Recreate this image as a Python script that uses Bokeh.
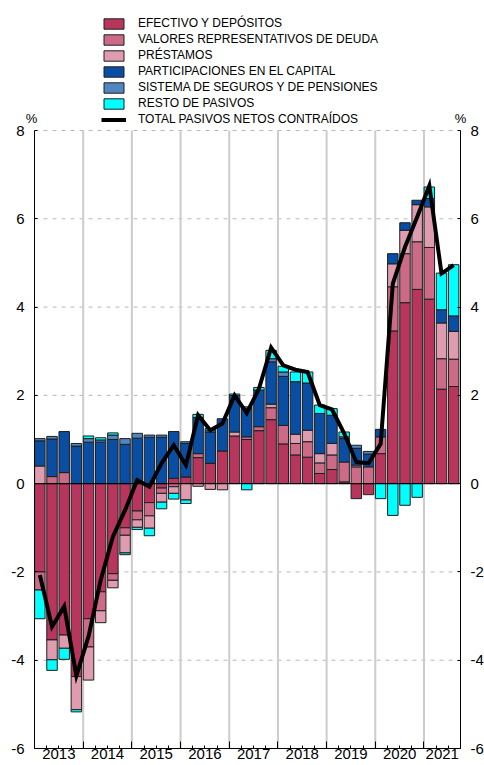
import numpy as np
from bokeh.plotting import figure
from bokeh.models import (Range1d, LinearAxis, FixedTicker, Label,
                          ColumnDataSource, Legend, LegendItem)
from bokeh.embed import file_html
from bokeh.resources import INLINE

# ---------------- data (quarterly, 2013Q1 .. 2021Q3) ----------------
years = ["2013", "2014", "2015", "2016", "2017", "2018", "2019", "2020", "2021"]
quarters_per_year = [4, 4, 4, 4, 4, 4, 4, 4, 3]

efectivo = [-2.00, -3.54, -3.43, -4.37, -3.06, -2.45, -2.04, -1.00, -0.62, -0.43, -0.10, 0.12,
            0.15, 0.59, 0.46, 0.74, 1.08, 1.00, 1.20, 1.45, 0.90, 0.65, 0.60, 0.23,
            0.32, 0.04, -0.34, -0.25, 0.68, 3.46, 4.10, 4.40, 4.18, 2.14, 2.20]
valores = [-0.41, 0.16, 0.25, 0.00, -0.64, -0.43, -0.15, -0.17, -0.20, -0.30, -0.12, -0.07,
           0.00, 0.09, 0.00, 0.00, 0.00, 0.06, 0.09, 0.27, 0.42, 0.26, 0.35, 0.24,
           0.33, 0.45, 0.38, 0.38, 0.38, 1.00, 1.11, 1.08, 1.17, 0.69, 0.62]
prestamos = [0.40, -0.45, -0.30, -0.75, -0.75, -0.27, -0.17, -0.40, -0.17, -0.28, -0.20, -0.15,
             -0.37, -0.06, -0.13, -0.14, 0.09, 0.00, 0.00, 0.08, 0.00, 0.21, 0.26, 0.21,
             0.26, 0.00, 0.04, 0.00, 0.00, 0.52, 0.53, 0.84, 0.92, 0.81, 0.63]
participaciones = [0.57, 0.85, 0.93, 0.85, 0.94, 0.94, 1.00, 0.89, 1.03, 1.05, 1.05, 1.06,
                   0.76, 0.82, 0.71, 0.73, 0.83, 0.64, 0.83, 0.96, 1.11, 1.19, 1.07, 0.91,
                   0.64, 0.53, 0.38, 0.29, 0.17, 0.23, 0.17, 0.10, 0.19, 0.30, 0.35]
seguros = [0.05, 0.06, 0.00, 0.06, 0.08, 0.05, 0.10, 0.13, 0.11, 0.05, 0.05, 0.00,
           0.04, 0.00, 0.04, 0.00, 0.00, 0.04, 0.00, 0.07, 0.10, 0.00, 0.00, 0.00,
           0.00, 0.04, 0.07, 0.06, 0.00, 0.00, 0.00, 0.00, 0.00, 0.00, 0.00]
resto = [-0.65, -0.24, -0.25, -0.05, 0.06, 0.05, 0.05, -0.04, -0.05, -0.17, -0.15, -0.13,
         -0.08, 0.07, 0.04, 0.00, 0.03, -0.14, 0.06, 0.19, 0.13, 0.22, 0.25, 0.19,
         0.15, 0.11, 0.00, 0.00, -0.34, -0.72, -0.49, -0.31, 0.26, 0.83, 1.16]
total = [-2.07, -3.24, -2.78, -4.35, -3.46, -2.18, -1.20, -0.60, 0.08, -0.07, 0.46, 0.87,
         0.42, 1.55, 1.21, 1.36, 2.00, 1.60, 2.15, 3.08, 2.68, 2.58, 2.53, 1.78,
         1.68, 1.14, 0.49, 0.46, 0.90, 4.53, 5.36, 6.04, 6.75, 4.76, 4.95]

series_names = ["EFECTIVO Y DEPÓSITOS", "VALORES REPRESENTATIVOS DE DEUDA", "PRÉSTAMOS",
                "PARTICIPACIONES EN EL CAPITAL", "SISTEMA DE SEGUROS Y DE PENSIONES",
                "RESTO DE PASIVOS"]
total_name = "TOTAL PASIVOS NETOS CONTRAÍDOS"
y_ticks = [-6, -4, -2, 0, 2, 4, 6, 8]
unit_label = "%"

series_values = [efectivo, valores, prestamos, participaciones, seguros, resto]
series_colors = ["#B8365E", "#CC6A88", "#DF9CB0", "#0A4EA3", "#5186BF", "#00FFFF"]
OUTLINE = "#1e1e1e"
FONT = "Liberation Sans"

n = len(total)
y_lo, y_hi = min(y_ticks), max(y_ticks)
bounds = np.concatenate([[0], np.cumsum(quarters_per_year)])
inner_bounds = [float(b) for b in bounds[1:-1]]
year_centers = [float(bounds[i] + bounds[i + 1]) / 2 for i in range(len(years))]

# ---------------- layout (pixels) ----------------
W, H = 484, 765
PLOT_L, PLOT_R, PLOT_T, PLOT_B = 34, 460, 130, 748   # where the value axes sit
ppx = (PLOT_R - PLOT_L) / n
ppy = (PLOT_B - PLOT_T) / (y_hi - y_lo)
x_range = Range1d(-PLOT_L / ppx, n + (W - PLOT_R) / ppx)
y_range = Range1d(y_lo - (H - PLOT_B) / ppy, y_hi + PLOT_T / ppy)

p = figure(width=W, height=H, x_range=x_range, y_range=y_range,
           output_backend="svg", toolbar_location=None,
           x_axis_location=None, y_axis_location=None,
           min_border_left=0, min_border_right=0, min_border_top=0, min_border_bottom=0)
p.outline_line_color = None
p.xgrid.visible = False
p.ygrid.visible = False

# grid lines limited to the axes' extent
p.segment(x0=[0] * len(y_ticks), x1=[n] * len(y_ticks), y0=y_ticks, y1=y_ticks,
          line_color="#b8b8b8", line_width=1, line_dash="4 5")
p.segment(x0=inner_bounds, x1=inner_bounds, y0=[y_lo] * len(inner_bounds),
          y1=[y_hi] * len(inner_bounds), line_color="#cccccc", line_width=2)

# stacked bars (positive and negative stacks separately)
x = np.arange(n) + 0.44
pos_base = np.zeros(n)
neg_base = np.zeros(n)
items = []
for name, vals, color in zip(series_names, series_values, series_colors):
    v = np.array(vals, dtype=float)
    pos = np.where(v > 0, v, 0.0)
    neg = np.where(v < 0, v, 0.0)
    bottom = np.where(v > 0, pos_base, neg_base + neg)
    top = np.where(v > 0, pos_base + pos, neg_base)
    pos_base = pos_base + pos
    neg_base = neg_base + neg
    m = v != 0
    src = ColumnDataSource(dict(x=x[m], bottom=bottom[m], top=top[m]))
    r = p.vbar(x="x", bottom="bottom", top="top", width=0.86, source=src,
               fill_color=color, line_color=OUTLINE, line_width=1)
    items.append(LegendItem(label=name, renderers=[r]))

# zero line
p.segment(x0=[0], x1=[n], y0=[0], y1=[0], line_color="black", line_width=1)

rl = p.line(x=x, y=total, line_color="black", line_width=4, line_join="miter")
items.append(LegendItem(label=total_name, renderers=[rl]))

# ---------------- axes (fixed inside the canvas) ----------------
overrides = {t: str(t) for t in y_ticks}
for side, loc in (("left", 0), ("right", n)):
    ax = LinearAxis(fixed_location=loc, bounds=(y_lo, y_hi),
                    ticker=FixedTicker(ticks=y_ticks), major_tick_in=3, major_tick_out=0,
                    minor_tick_line_color=None, major_label_standoff=10,
                    major_label_text_font=FONT, major_label_text_font_size="15px",
                    major_label_text_color="black", axis_line_color="black",
                    major_tick_line_color="black", major_label_overrides=overrides)
    p.add_layout(ax, side)

# bottom axis: axis line, quarter ticks and year labels
xb = LinearAxis(fixed_location=y_lo, bounds=(0, n),
                ticker=FixedTicker(ticks=year_centers, minor_ticks=list(range(0, n + 1))),
                major_tick_in=0, major_tick_out=0, major_tick_line_color=None,
                minor_tick_in=3, minor_tick_out=0, minor_tick_line_color="black",
                major_label_overrides={c: yv for c, yv in zip(year_centers, years)},
                major_label_standoff=0, major_label_text_font=FONT,
                major_label_text_font_size="15px", major_label_text_color="black",
                axis_line_color="black")
p.add_layout(xb, "below")
# longer ticks at the year boundaries
xb2 = LinearAxis(fixed_location=y_lo, bounds=(0, n),
                 ticker=FixedTicker(ticks=[], minor_ticks=inner_bounds),
                 minor_tick_in=7, minor_tick_out=0, minor_tick_line_color="black",
                 major_tick_line_color=None, axis_line_color=None)
p.add_layout(xb2, "below")

# unit labels above both value axes
for ux in (0 - 3 / ppx, n):
    p.add_layout(Label(x=ux, y=y_hi + 12 / ppy, text=unit_label, text_align="center",
                       text_baseline="middle", text_font=FONT, text_font_size="13px",
                       text_color="black"))

legend = Legend(items=items, location=(101, H - 126), orientation="vertical",
                background_fill_alpha=0, border_line_color=None,
                label_text_font=FONT, label_text_font_size="12px", label_text_color="black",
                glyph_width=25, glyph_height=13, label_height=14, label_standoff=12,
                spacing=2, padding=0, margin=0)
p.add_layout(legend)

open("out.html", "w").write(file_html(p, INLINE))
